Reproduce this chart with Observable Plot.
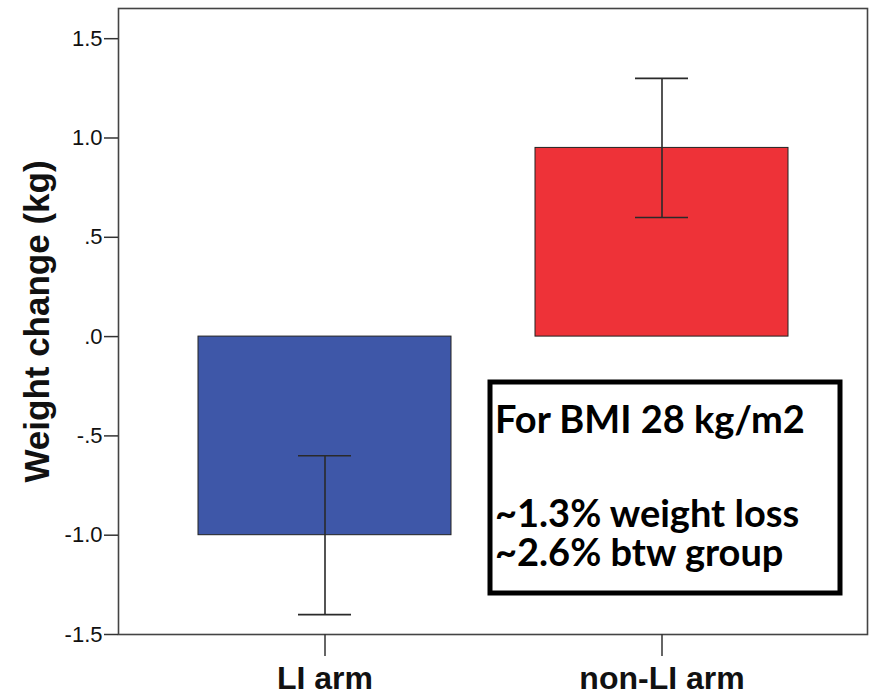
<!DOCTYPE html>
<html>
<head>
<meta charset="utf-8">
<script src="https://cdn.jsdelivr.net/npm/d3@7"></script>
<script src="https://cdn.jsdelivr.net/npm/@observablehq/plot@0.6"></script>
<style>
  html, body { margin: 0; padding: 0; background: #fff; }
  #chart svg { display: block; }
</style>
</head>
<body>
<div id="chart"></div>
<script>
// Mean weight change per study arm, with its interval
const arms = ["LI arm", "non-LI arm"];
const meanChange = [-1.0, 0.95];
const intervalLow = [-1.4, 0.6];
const intervalHigh = [-0.6, 1.3];
const barColors = ["#3E57A8", "#EE3238"];

// Y axis ticks and their SPSS-style labels
const yTicks = [-1.5, -1.0, -0.5, 0.0, 0.5, 1.0, 1.5];
const yTickLabels = ["-1.5", "-1.0", "-.5", ".0", ".5", "1.0", "1.5"];

// Annotation box text
const noteLines = ["For BMI 28 kg/m2", "", "~1.3% weight loss", "~2.6% btw group"];

const rows = arms.map((arm, i) => ({
  arm,
  mean: meanChange[i],
  low: intervalLow[i],
  high: intervalHigh[i],
  color: barColors[i]
}));

const labelOf = new Map(yTicks.map((t, i) => [t, yTickLabels[i]]));

const plot = Plot.plot({
  width: 869,
  height: 693,
  marginLeft: 118,
  marginRight: 2,
  marginTop: 8,
  marginBottom: 59,
  style: { fontFamily: "Liberation Sans, Arial, sans-serif", background: "#fff", color: "#111" },
  x: { domain: arms, paddingInner: 0.25, paddingOuter: 0.236, label: null },
  y: { domain: [-1.5, 1.652], label: null },
  marks: [
    Plot.barY(rows, {
      x: "arm", y1: 0, y2: "mean",
      fill: "color", stroke: "#222", strokeWidth: 1
    }),
    Plot.ruleX(rows, { x: "arm", y1: "low", y2: "high", stroke: "#2a2a2a", strokeWidth: 1.6 }),
    Plot.tickY(rows, { x: "arm", y: "low", stroke: "#2a2a2a", strokeWidth: 1.6, insetLeft: 100, insetRight: 100 }),
    Plot.tickY(rows, { x: "arm", y: "high", stroke: "#2a2a2a", strokeWidth: 1.6, insetLeft: 100, insetRight: 100 }),
    Plot.frame({ stroke: "#444", strokeWidth: 1.6 }),
    Plot.axisY({
      ticks: yTicks,
      tickFormat: (d) => labelOf.get(d),
      tickSize: 14,
      tickPadding: 2,
      fontSize: 22,
      stroke: "#333",
      strokeWidth: 1.5,
      label: null
    }),
    Plot.axisX({
      tickSize: 22,
      tickPadding: 10,
      fontSize: 32,
      fontWeight: "bold",
      stroke: "#333",
      strokeWidth: 1.5,
      label: null
    }),
    Plot.text(["Weight change (kg)"], {
      text: (d) => d,
      frameAnchor: "left",
      rotate: -90,
      dx: -81,
      lineAnchor: "middle",
      textAnchor: "middle",
      fontSize: 35,
      fontWeight: "bold",
      fill: "#111"
    })
  ]
});

// Annotation box drawn over the plot area
const svg = d3.select(plot);
const note = svg.append("g").attr("text-anchor", "start");
note.append("rect")
  .attr("x", 490).attr("y", 382)
  .attr("width", 350).attr("height", 211)
  .attr("fill", "#fff").attr("stroke", "#000").attr("stroke-width", 5);
const baselines = [433, 0, 527, 566];
noteLines.forEach((line, i) => {
  if (!line) return;
  note.append("text")
    .attr("x", 495).attr("y", baselines[i])
    .attr("text-anchor", "start")
    .attr("font-family", "Lato, sans-serif")
    .attr("font-weight", "bold")
    .attr("font-size", 38)
    .attr("fill", "#000")
    .text(line);
});

document.getElementById("chart").appendChild(plot);
</script>
</body>
</html>
